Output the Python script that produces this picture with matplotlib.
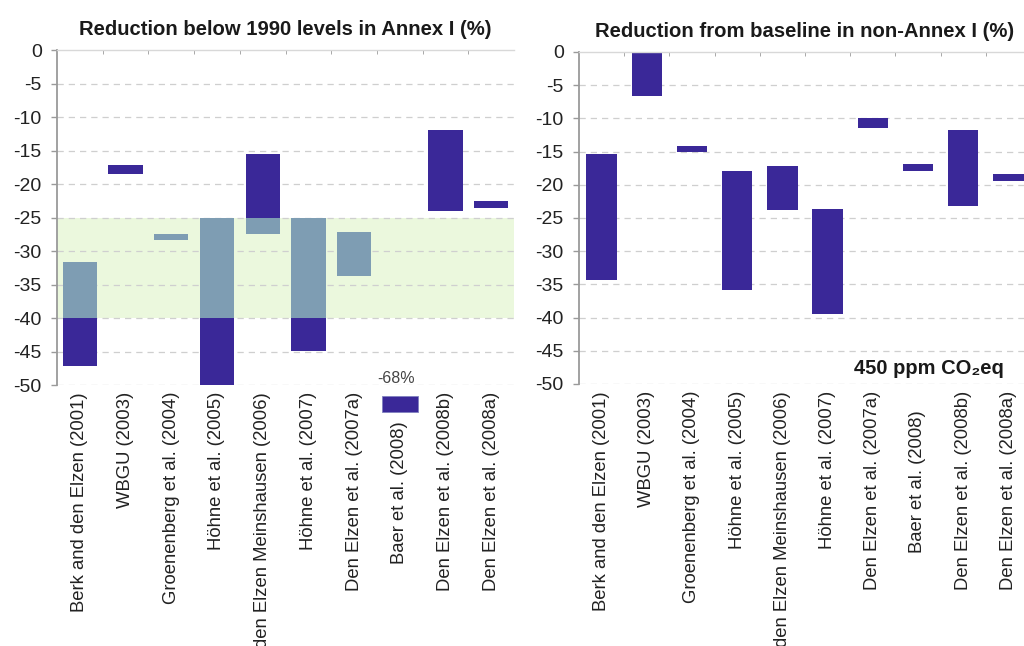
import matplotlib
matplotlib.use("Agg")
import matplotlib.pyplot as plt
import numpy as np

plt.rcParams['font.family'] = ['Liberation Sans', 'DejaVu Sans']

categories = ["Berk and den Elzen (2001)", "WBGU (2003)", "Groenenberg et al. (2004)",
              "Höhne et al. (2005)", "den Elzen Meinshausen (2006)", "Höhne et al. (2007)",
              "Den Elzen et al. (2007a)", "Baer et al. (2008)", "Den Elzen et al. (2008b)",
              "Den Elzen et al. (2008a)"]

# Annex I: reduction below 1990 levels (%), range top / bottom
annex_top = [-31.6, -17.1, -27.5, -25.0, -15.5, -25.0, -27.2, np.nan, -12.0, -22.6]
annex_bot = [-47.2, -18.5, -28.3, -50.0, -27.4, -44.9, -33.7, np.nan, -24.1, -23.6]
baer_value = -68  # off-scale value
baer_index = 7

# non-Annex I: reduction from baseline (%)
non_top = [-15.4, 0.0, -14.1, -17.9, -17.2, -23.6, -10.0, -16.9, -11.8, -18.4]
non_bot = [-34.3, -6.7, -15.1, -35.8, -23.8, -39.5, -11.5, -17.9, -23.2, -19.5]

band = (-25, -40)  # IPCC range for Annex I

yticks = list(range(0, -55, -5))

BLUE = "#3a2898"
GREYBLUE = "#7e9db3"
GREEN = "#ebf8dd"
GRID = "#cfcfcf"
AXC = "#9a9a9a"

fig = plt.figure(figsize=(10.24, 6.46), dpi=100)
axL = fig.add_axes([0.0557, 0.404, 0.4463, 0.5186])
axR = fig.add_axes([0.5654, 0.4056, 0.4414, 0.514])


def style(ax, title, baer_pad):
    n = len(categories)
    ax.set_xlim(-0.5, n - 0.5)
    ax.set_ylim(-50, 0)
    ax.set_yticks(yticks)
    ax.set_yticklabels([str(v) for v in yticks], fontsize=14, color="#222222")
    for v in yticks:
        if v != 0:
            ax.axhline(v, color=GRID, lw=0.9, ls=(0, (5, 4)), zorder=0.5)
    ax.set_xticks(range(n))
    ax.set_xticklabels(categories, rotation=90, fontsize=13.3, color="#222222", va="top")
    ax.tick_params(axis="x", which="major", length=0, pad=5)
    ax.set_xticks(np.arange(0.5, n - 0.5, 1.0), minor=True)
    ax.tick_params(axis="x", which="minor", top=True, bottom=False, direction="in",
                   length=3, color=AXC)
    ax.tick_params(axis="y", length=4, color=AXC, width=1, pad=7)
    for s in ["right", "bottom"]:
        ax.spines[s].set_visible(False)
    ax.spines["left"].set_color(AXC)
    ax.spines["left"].set_linewidth(1.3)
    ax.spines["top"].set_color("#d8d8d8")
    ax.spines["top"].set_linewidth(1.0)
    ax.set_title(title, fontsize=14.6, fontweight="bold", color="#1a1a1a", pad=11)
    ax.xaxis.get_major_ticks()[baer_index].set_pad(baer_pad)


style(axL, "Reduction below 1990 levels in Annex I (%)", 26)
style(axR, "Reduction from baseline in non-Annex I (%)", 19)

# green band
axL.axhspan(band[1], band[0], color=GREEN, zorder=0.3, lw=0)

x = np.arange(len(categories))
WL = 0.75
for i in range(len(categories)):
    t, b = annex_top[i], annex_bot[i]
    if np.isnan(t):
        continue
    segs = []
    hi_band, lo_band = band
    if t > hi_band:
        segs.append((max(b, hi_band), t, BLUE))
    it, ib = min(t, hi_band), max(b, lo_band)
    if it > ib:
        segs.append((ib, it, GREYBLUE))
    if b < lo_band:
        segs.append((b, min(t, lo_band), BLUE))
    for s0, s1, c in segs:
        axL.bar(x[i], s1 - s0, bottom=s0, width=WL, color=c, zorder=2, lw=0)

# Baer off-scale marker below axis
axL.bar(x[baer_index], -2.4, bottom=-51.6, width=WL * 1.05, color=BLUE, zorder=3,
        clip_on=False, edgecolor="#8080c0", lw=0.6)
axL.text(x[baer_index] - 0.08, -49.0, f"{baer_value}%", ha="center", va="center",
         fontsize=11.5, color="#444444", zorder=4)

WR = 0.67
for i in range(len(categories)):
    axR.bar(x[i], non_bot[i] - non_top[i], bottom=non_top[i], width=WR,
            color=BLUE, zorder=2, lw=0)

axR.text(8.9, -47.6, "450 ppm CO₂eq", ha="right", va="center", fontsize=14.5,
         fontweight="bold", color="#1a1a1a", zorder=4)

fig.savefig("out.png", dpi=100)
